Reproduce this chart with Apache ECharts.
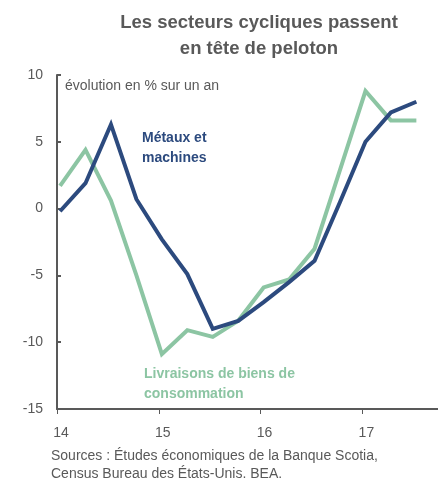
<!DOCTYPE html>
<html>
<head>
<meta charset="utf-8">
<script src="https://cdn.jsdelivr.net/npm/echarts@6/dist/echarts.min.js"></script>
<style>html,body{margin:0;padding:0;background:#fff}#c{width:438px;height:485px}</style>
</head>
<body>
<div id="c"></div>
<script>
var yearLabels = ['14', '15', '16', '17'];
var quarters = ['14T1','14T2','14T3','14T4','15T1','15T2','15T3','15T4','16T1','16T2','16T3','16T4','17T1','17T2','17T3'];
var metaux = [-0.2, 1.9, 6.3, 0.7, -2.3, -4.9, -9.0, -8.4, -7.0, -5.5, -3.9, 0.5, 5.0, 7.2, 8.0];
var livraisons = [1.7, 4.4, 0.6, -5.0, -10.9, -9.1, -9.6, -8.4, -5.9, -5.3, -3.0, 2.9, 8.8, 6.6, 6.6];
var yTicks = [-15, -10, -5, 0, 5, 10];

var GRAY = '#595959';
var BLUE = '#2C4A7E';
var GREEN = '#8CC5A3';
var FONT = '"Liberation Sans", Arial, sans-serif';
var XMIN = -0.12, XMAX = 14.85;

function pairs(arr) { return arr.map(function (v, i) { return [i, v]; }); }

var chart = echarts.init(document.getElementById('c'), null, {renderer: 'canvas'});
chart.setOption({
  animation: false,
  backgroundColor: '#fff',
  title: {
    text: 'Les secteurs cycliques passent\nen tête de peloton',
    left: 254, top: 5, textAlign: 'center',
    textStyle: {fontFamily: FONT, fontWeight: 'bold', fontSize: 18.5, color: GRAY, lineHeight: 26}
  },
  grid: {left: 57, right: 0, top: 75, bottom: 76, containLabel: false},
  xAxis: [{
    type: 'value', min: XMIN, max: XMAX, interval: 4,
    axisLine: {show: false}, axisTick: {show: false}, splitLine: {show: false},
    axisLabel: {
      color: GRAY, fontFamily: FONT, fontSize: 14, margin: 17, showMaxLabel: false,
      padding: [0, 0, 0, 8],
      formatter: function (v) { var k = Math.round((v - XMIN) / 4); return yearLabels[k] || ''; }
    }
  }, {
    type: 'value', min: XMIN, max: XMAX, interval: 4, position: 'bottom',
    axisLine: {show: true, onZero: true, lineStyle: {color: GRAY, width: 2}},
    axisTick: {show: true, length: 5, lineStyle: {color: GRAY, width: 1}},
    axisLabel: {show: false}, splitLine: {show: false}
  }],
  yAxis: {
    type: 'value', min: yTicks[0], max: yTicks[yTicks.length - 1], interval: 5,
    axisLine: {show: true, onZero: false, lineStyle: {color: GRAY, width: 2}},
    axisTick: {show: true, inside: true, length: 4, lineStyle: {color: GRAY, width: 2}},
    splitLine: {show: false},
    axisLabel: {color: GRAY, fontFamily: FONT, fontSize: 14, margin: 14}
  },
  series: [{
    name: 'Livraisons de biens de consommation', type: 'line', xAxisIndex: 0,
    data: pairs(livraisons), showSymbol: false, symbol: 'none',
    lineStyle: {color: GREEN, width: 4, join: 'miter'}, z: 2
  }, {
    name: 'Métaux et machines', type: 'line', xAxisIndex: 0,
    data: pairs(metaux), showSymbol: false, symbol: 'none',
    lineStyle: {color: BLUE, width: 4, join: 'miter'}, z: 3
  }],
  graphic: [{
    type: 'text', left: 65, top: 79,
    style: {text: 'évolution en % sur un an', fontFamily: FONT, fontSize: 14, fill: GRAY}
  }, {
    type: 'text', left: 142, top: 128,
    style: {text: 'Métaux et\nmachines', fontFamily: FONT, fontSize: 14, fontWeight: 'bold', fill: BLUE, lineHeight: 20}
  }, {
    type: 'text', left: 144, top: 364,
    style: {text: 'Livraisons de biens de\nconsommation', fontFamily: FONT, fontSize: 14, fontWeight: 'bold', fill: GREEN, lineHeight: 20, align: 'center', x: 76}
  }, {
    type: 'text', left: 51, top: 447,
    style: {text: 'Sources : Études économiques de la Banque Scotia,\nCensus Bureau des États-Unis. BEA.', fontFamily: FONT, fontSize: 14, fill: GRAY, lineHeight: 18}
  }]
});
</script>
</body>
</html>
